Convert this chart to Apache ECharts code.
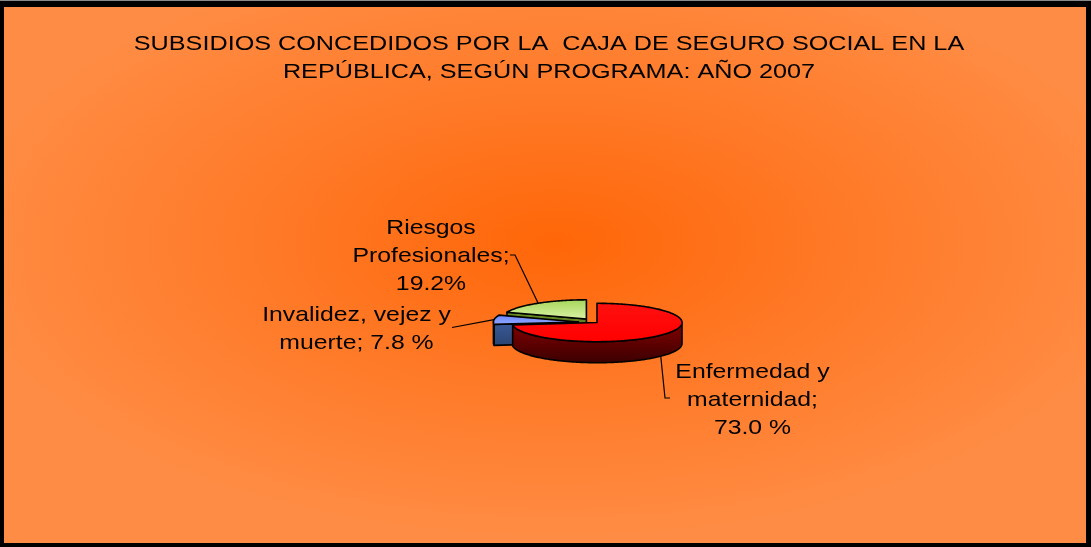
<!DOCTYPE html>
<html>
<head>
<meta charset="utf-8">
<script src="https://cdn.jsdelivr.net/npm/echarts@6/dist/echarts.min.js"></script>
<style>
  html, body { margin: 0; padding: 0; background: #000; }
  body { width: 1091px; height: 547px; overflow: hidden; position: relative; }
  #topline { position: absolute; left: 0; top: 0; width: 1091px; height: 1px; background: #8a8a8a; }
  #chart { position: absolute; left: 4px; top: 7px; width: 1082px; height: 536px; }
</style>
</head>
<body>
<div id="topline"></div>
<div id="chart"></div>
<script>
// data
const titleLines = ['SUBSIDIOS CONCEDIDOS POR LA  CAJA DE SEGURO SOCIAL EN LA', 'REPÚBLICA, SEGÚN PROGRAMA: AÑO 2007'];
const categories = ['Enfermedad y\nmaternidad', 'Invalidez, vejez y\nmuerte', 'Riesgos\nProfesionales'];
const values = [73.0, 7.8, 19.2];
const valueSep = ['\n', ' ', '\n'];
const valueUnit = [' %', ' %', '%'];

// layout / style
const FONT = '"Liberation Sans", Arial, sans-serif';
const pie = {cx: 593, cy: 315.5, rx: 85, ry: 19.2, depth: 21};
const explode = [0, 0.22, 0.22];
const drawOrder = [30, 20, 10];
const labelPos = [[748.5, 393], [352.5, 322], [427, 249.5]];
const leaderFrom = [[[666, 391], [661, 391]], [[448, 320.5]], [[506, 248], [511, 248]]];
const leaderToBase = [true, false, false];

function vGrad(a, b) {
  return {type: 'linear', x: 0, y: 0, x2: 0, y2: 1, colorStops: [{offset: 0, color: a}, {offset: 1, color: b}]};
}
const topFill = [vGrad('#ff1010', '#ff0000'), vGrad('#6a86ff', '#93a8ff'), vGrad('#a4d458', '#dcf3a8')];
const sideFill = [vGrad('#850000', '#3a0000'), vGrad('#3a5a99', '#2a4370'), vGrad('#6b8e23', '#4f6b1a')];

const total = values.reduce((a, b) => a + b, 0);
const startAngles = [];
let acc = 0;
values.forEach(v => { startAngles.push(acc / total * 360); acc += v; });

function pt(c, deg, dy) {
  const r = deg * Math.PI / 180;
  return [c[0] + pie.rx * Math.sin(r), c[1] - pie.ry * Math.cos(r) + (dy || 0)];
}
function arc(c, a0, a1, dy) {
  const pts = [];
  const n = Math.max(2, Math.ceil(Math.abs(a1 - a0)));
  for (let i = 0; i <= n; i++) pts.push(pt(c, a0 + (a1 - a0) * i / n, dy));
  return pts;
}

function renderItem(params, api) {
  const i = params.dataIndex;
  const v = api.value(0);
  const a0 = startAngles[i];
  const a1 = a0 + v / total * 360;
  const mid = (a0 + a1) / 2;
  const mr = mid * Math.PI / 180;
  const c = [pie.cx + explode[i] * pie.rx * Math.sin(mr), pie.cy - explode[i] * pie.ry * Math.cos(mr)];
  const D = pie.depth;
  const base = drawOrder[i];
  const edge = {stroke: '#000', lineWidth: 1.6, lineJoin: 'round'};
  const children = [];

  // outer wall, front half only
  const b0 = Math.max(a0, 90), b1 = Math.min(a1, 270);
  if (b1 > b0) {
    children.push({
      type: 'polygon', z2: base,
      shape: {points: arc(c, b0, b1).concat(arc(c, b1, b0, D))},
      style: Object.assign({fill: sideFill[i]}, edge)
    });
  }
  // radial faces turned to the viewer
  const faces = [];
  if (Math.sin(a0 * Math.PI / 180) < -1e-6) faces.push(a0);
  if (Math.sin(a1 * Math.PI / 180) > 1e-6) faces.push(a1);
  faces.forEach(a => {
    const p = pt(c, a);
    children.push({
      type: 'polygon', z2: base + 1,
      shape: {points: [c, p, [p[0], p[1] + D], [c[0], c[1] + D]]},
      style: Object.assign({fill: sideFill[i]}, edge)
    });
  });
  // top face
  children.push({
    type: 'polygon', z2: base + 2,
    shape: {points: [c].concat(arc(c, a0, a1))},
    style: Object.assign({fill: topFill[i]}, edge)
  });

  // leader line
  const end = pt(c, mid, leaderToBase[i] ? D : 0);
  children.push({
    type: 'polyline', z2: 100,
    shape: {points: leaderFrom[i].concat([end])},
    style: {stroke: '#000', lineWidth: 1.2, fill: null}
  });
  // label
  children.push({
    type: 'text', z2: 100,
    x: labelPos[i][0], y: labelPos[i][1], scaleX: 1.18,
    style: {
      text: categories[i] + ';' + valueSep[i] + values[i].toFixed(1) + valueUnit[i],
      fill: '#000', fontSize: 21, fontFamily: FONT,
      align: 'center', verticalAlign: 'middle', lineHeight: 28
    }
  });
  return {type: 'group', children: children};
}

const chart = echarts.init(document.getElementById('chart'));
chart.setOption({
  animation: false,
  backgroundColor: '#ff8c44',
  graphic: [
    {
      type: 'rect', z: -10, silent: true,
      x: 0, y: 0, scaleX: 1082 / 536,
      shape: {x: 0, y: 0, width: 536, height: 536},
      style: {
        fill: {
          type: 'radial', x: 0.51, y: 0.44, r: 0.55,
          colorStops: [
            {offset: 0, color: '#ff6608'},
            {offset: 0.5, color: '#ff7a28'},
            {offset: 1, color: '#ff8c44'}
          ]
        }
      }
    },
    {
      type: 'text', x: 545, y: 37, scaleX: 1.26,
      style: {text: titleLines[0], fill: '#000', fontSize: 20, fontFamily: FONT, align: 'center', verticalAlign: 'middle'}
    },
    {
      type: 'text', x: 545, y: 65, scaleX: 1.26,
      style: {text: titleLines[1], fill: '#000', fontSize: 20, fontFamily: FONT, align: 'center', verticalAlign: 'middle'}
    }
  ],
  series: [{
    type: 'custom',
    coordinateSystem: 'none',
    silent: true,
    renderItem: renderItem,
    data: values.map((v, i) => ({name: categories[i], value: v}))
  }]
});
</script>
</body>
</html>
